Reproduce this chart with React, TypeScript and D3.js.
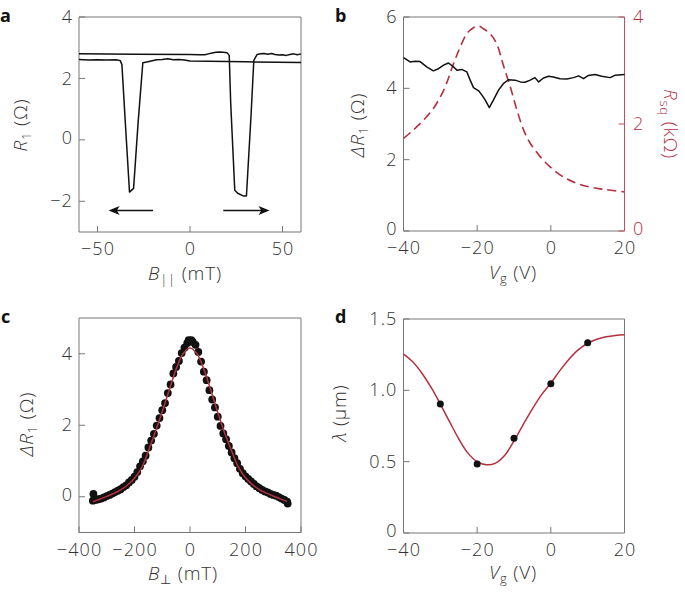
import React from "react";
import * as d3 from "d3";

const RED = "#b3303f";
const RED_SPINE = "#c4505c";
const GRAY = "#777";
const TXT = "#333";
const FONT = "'Open Sans', 'Liberation Sans', 'DejaVu Sans', sans-serif";
const TICK_FS = 18;
const TICK_LS = 1.1;
const LBL_FS = 19;
const LBL_LS = 0.8;

// ---------- Panel a ----------
const aFwdB = [-60, -30, 0, 5, 8, 10, 12, 14, 16, 18, 20, 21.2, 22, 24.2, 25.8, 29, 30.5, 33, 34.5, 36.3, 38, 40, 42, 44, 46, 48, 50, 52, 54, 56, 58, 60];
const aFwdR = [2.80, 2.79, 2.78, 2.77, 2.77, 2.80, 2.83, 2.85, 2.86, 2.85, 2.84, 2.75, 1.2, -1.64, -1.74, -1.83, -1.83, 0.8, 2.59, 2.78, 2.80, 2.81, 2.79, 2.81, 2.78, 2.76, 2.77, 2.75, 2.78, 2.80, 2.77, 2.80];
const aBwdB = [60, 30, 0, -3, -6, -9, -12, -15, -18, -21, -24, -25.5, -28, -30.5, -32.7, -35, -36.8, -37.7, -40, -45, -50, -55, -60];
const aBwdR = [2.52, 2.54, 2.57, 2.60, 2.62, 2.61, 2.64, 2.62, 2.61, 2.57, 2.53, 2.51, 0.6, -1.58, -1.70, 0.6, 2.45, 2.58, 2.61, 2.60, 2.61, 2.60, 2.62];
const aArrowFrom = [-20, 18];
const aArrowTo = [-44, 43];
const aArrowLevel = -2.3;
const aXTicks = [-50, 0, 50];
const aYTicks = [-2, 0, 2, 4];

// ---------- Panel b ----------
const bVg = [-40, -38.2, -36.8, -35.5, -33.7, -31.9, -30.5, -29.1, -27.8, -26.4, -25.5, -24.2, -22.8, -21.9, -21.0, -19.6, -18.7, -17.8, -16.7, -15.6, -14.2, -12.9, -11.5, -9.7, -8.3, -7.0, -5.6, -4.3, -3.3, -2.0, -0.6, 0.7, 2.5, 4.3, 6.2, 7.5, 8.9, 10.2, 12.0, 13.8, 16.1, 17.5, 20];
const bDR = [4.86, 4.74, 4.76, 4.75, 4.60, 4.49, 4.55, 4.65, 4.71, 4.60, 4.51, 4.53, 4.46, 4.23, 4.02, 3.93, 3.81, 3.67, 3.46, 3.67, 3.95, 4.13, 4.24, 4.23, 4.18, 4.17, 4.23, 4.30, 4.18, 4.29, 4.34, 4.32, 4.27, 4.26, 4.30, 4.35, 4.27, 4.36, 4.39, 4.34, 4.30, 4.37, 4.39];
const bVgR = [-40, -37.3, -34.6, -31.9, -29.1, -26.4, -24.6, -22.8, -21.0, -19.6, -18.3, -16.5, -14.7, -12.9, -11.0, -9.2, -7.4, -5.6, -2.9, -0.2, 3.4, 7.1, 10.7, 14.3, 20];
const bRsq = [1.73, 1.89, 2.07, 2.29, 2.63, 3.13, 3.44, 3.69, 3.80, 3.83, 3.78, 3.69, 3.50, 3.10, 2.69, 2.26, 1.89, 1.64, 1.39, 1.20, 1.01, 0.89, 0.82, 0.78, 0.73];
const bXTicks = [-40, -20, 0, 20];
const bYTicks = [0, 2, 4, 6];
const bY2Ticks = [0, 2, 4];

// ---------- Panel c ----------
const cB = [-350, -340, -330, -320, -310, -300, -290, -280, -270, -260, -250, -240, -230, -220, -210, -200, -190, -180, -170, -160, -150, -140, -130, -120, -110, -100, -90, -80, -70, -60, -50, -40, -30, -20, -10, 0, 10, 20, 30, 40, 50, 60, 70, 80, 90, 100, 110, 120, 130, 140, 150, 160, 170, 180, 190, 200, 210, 220, 230, 240, 250, 260, 270, 280, 290, 300, 310, 320, 330, 340, 350, -348, 352, -5, 5];
const cR = [-0.11, -0.09, -0.07, -0.05, -0.02, 0.02, 0.05, 0.09, 0.13, 0.17, 0.21, 0.27, 0.32, 0.40, 0.47, 0.56, 0.69, 0.85, 0.99, 1.15, 1.38, 1.57, 1.76, 1.99, 2.20, 2.42, 2.62, 2.90, 3.14, 3.45, 3.63, 3.80, 4.02, 4.17, 4.30, 4.35, 4.33, 4.25, 4.05, 3.78, 3.50, 3.26, 2.98, 2.72, 2.50, 2.24, 1.98, 1.77, 1.61, 1.42, 1.24, 1.08, 0.94, 0.78, 0.66, 0.57, 0.50, 0.43, 0.36, 0.29, 0.24, 0.19, 0.15, 0.12, 0.08, 0.05, 0.03, -0.01, -0.05, -0.09, -0.14, 0.08, -0.19, 4.38, 4.38];
const cFitB = [-350, -325, -300, -275, -250, -225, -200, -175, -150, -125, -100, -75, -50, -25, 0, 25, 50, 75, 100, 125, 150, 175, 200, 225, 250, 275, 300, 325, 350];
const cFitR = [-0.14, -0.07, 0.01, 0.09, 0.19, 0.33, 0.52, 0.80, 1.28, 1.82, 2.38, 2.98, 3.57, 4.00, 4.16, 4.00, 3.57, 2.98, 2.36, 1.78, 1.28, 0.82, 0.53, 0.34, 0.20, 0.10, 0.02, -0.06, -0.13];
const cXTicks = [-400, -200, 0, 200, 400];
const cYTicks = [0, 2, 4];

// ---------- Panel d ----------
const dVg = [-30, -20, -10, 0, 10];
const dLambda = [0.904, 0.484, 0.664, 1.046, 1.334];
const dFitVg = [-40, -37.5, -35, -32.5, -30, -27.5, -25, -22.5, -20, -17.5, -15, -12.5, -10, -7.5, -5, -2.5, 0, 2.5, 5, 7.5, 10, 12.5, 15, 17.5, 20];
const dFitL = [1.254, 1.20, 1.12, 1.02, 0.904, 0.78, 0.66, 0.56, 0.50, 0.478, 0.49, 0.545, 0.645, 0.76, 0.87, 0.97, 1.05, 1.14, 1.22, 1.285, 1.33, 1.358, 1.375, 1.385, 1.39];
const dXTicks = [-40, -20, 0, 20];
const dYTicks = [0, 0.5, 1.0, 1.5];
const dYLabels = ["0", "0.5", "1.0", "1.5"];

const fmt = (v: number) => (v < 0 ? "\u2212" + Math.abs(v) : String(v));

type Sc = d3.ScaleLinear<number, number>;

function Frame(props: {
  x: Sc; y: Sc; xTicks: number[]; yTicks: number[]; yLabels?: string[]; rightColor?: string;
}) {
  const { x, y, xTicks, yTicks, yLabels, rightColor } = props;
  const [x0, x1] = x.range();
  const [y0, y1] = y.range();
  return (
    <g fontFamily={FONT} fontSize={TICK_FS} fill={TXT} fontWeight={300} letterSpacing={TICK_LS}>
      {xTicks.map((t) => (
        <g key={"x" + t}>
          <line x1={x(t)} x2={x(t)} y1={y0} y2={y0 - 6} stroke={GRAY} strokeWidth={1} />
          <text x={x(t) + TICK_LS / 2} y={y0 + 23} textAnchor="middle">{fmt(t)}</text>
        </g>
      ))}
      {yTicks.map((t, i) => (
        <g key={"y" + t}>
          <line x1={x0} x2={x0 + 6} y1={y(t)} y2={y(t)} stroke={GRAY} strokeWidth={1} />
          <text x={x0 - 6} y={y(t) - (t === 0 ? 2 : 0)} dy="0.34em" textAnchor="end">{yLabels ? yLabels[i] : fmt(t)}</text>
        </g>
      ))}
      <line x1={x0} x2={x1} y1={y1} y2={y1} stroke={GRAY} strokeWidth={1} />
      <line x1={x0} x2={x1} y1={y0} y2={y0} stroke={GRAY} strokeWidth={1} />
      <line x1={x0} x2={x0} y1={y0} y2={y1} stroke={GRAY} strokeWidth={1} />
      <line x1={x1} x2={x1} y1={y0} y2={y1} stroke={rightColor || GRAY} strokeWidth={1} />
    </g>
  );
}

function PanelLetter({ x, y, t }: { x: number; y: number; t: string }) {
  return (
    <text x={x} y={y} fontFamily={FONT} fontSize={18} fontWeight={700} fill="#111">{t}</text>
  );
}

export default function App() {
  const axA = d3.scaleLinear().domain([-60, 60]).range([79, 301]);
  const ayA = d3.scaleLinear().domain([-3, 4]).range([232, 17]);
  const axB = d3.scaleLinear().domain([-40, 20]).range([403.5, 624.5]);
  const ayB = d3.scaleLinear().domain([0, 6]).range([231, 17]);
  const ay2B = d3.scaleLinear().domain([0, 4]).range([231, 17]);
  const axC = d3.scaleLinear().domain([-400, 400]).range([79, 301]);
  const ayC = d3.scaleLinear().domain([-1, 5]).range([532.5, 318]);
  const axD = d3.scaleLinear().domain([-40, 20]).range([403.5, 624.5]);
  const ayD = d3.scaleLinear().domain([0, 1.5]).range([533, 319]);

  const mk = (xs: number[], ys: number[], sx: Sc, sy: Sc, curve?: d3.CurveFactory) => {
    const l = d3.line<number>().x((v) => sx(v)).y((_, i) => sy(ys[i]));
    if (curve) l.curve(curve);
    return l(xs) || "";
  };

  const arrowHead = (tipX: number, tipY: number, dir: number) => {
    const L = 11, W = 4.5;
    return `M${tipX},${tipY}L${tipX - dir * L},${tipY - W}L${tipX - dir * L * 0.75},${tipY}L${tipX - dir * L},${tipY + W}Z`;
  };

  const lbl = { fontFamily: FONT, fontSize: LBL_FS, fill: TXT, fontWeight: 300, letterSpacing: LBL_LS } as const;
  const SUB = 13;

  return (
    <svg width={685} height={594} style={{ position: "absolute", left: 0, top: 0, background: "#fff" }}>
      <rect x={0} y={0} width={685} height={594} fill="#fff" />

      {/* Panel a */}
      <PanelLetter x={0} y={22} t="a" />
      <Frame x={axA} y={ayA} xTicks={aXTicks} yTicks={aYTicks} />
      <path d={mk(aFwdB, aFwdR, axA, ayA)} fill="none" stroke="#111" strokeWidth={1.5} strokeLinejoin="round" />
      <path d={mk(aBwdB, aBwdR, axA, ayA)} fill="none" stroke="#111" strokeWidth={1.5} strokeLinejoin="round" />
      {aArrowFrom.map((f, i) => {
        const to = aArrowTo[i];
        const dir = to > f ? 1 : -1;
        const yy = ayA(aArrowLevel);
        return (
          <g key={"arr" + i}>
            <line x1={axA(f)} x2={axA(to) - dir * 6} y1={yy} y2={yy} stroke="#111" strokeWidth={1.5} />
            <path d={arrowHead(axA(to), yy, dir)} fill="#111" />
          </g>
        );
      })}
      <text {...lbl} transform="translate(27,125) rotate(-90)" textAnchor="middle">
        <tspan fontStyle="italic">R</tspan><tspan fontSize={SUB} dy={4}>1</tspan><tspan dy={-4}> (Ω)</tspan>
      </text>
      <text {...lbl} x={185} y={280} textAnchor="middle">
        <tspan fontStyle="italic">B</tspan><tspan fontSize={SUB} dy={4}>||</tspan><tspan dy={-4}> (mT)</tspan>
      </text>

      {/* Panel b */}
      <PanelLetter x={335} y={22} t="b" />
      <Frame x={axB} y={ayB} xTicks={bXTicks} yTicks={bYTicks} rightColor={RED_SPINE} />
      {bY2Ticks.map((t) => (
        <g key={"r" + t}>
          <line x1={624.5} x2={618.5} y1={ay2B(t)} y2={ay2B(t)} stroke={RED_SPINE} strokeWidth={1} />
          <text x={633} y={ay2B(t) - (t === 0 ? 2 : 0)} dy="0.34em" fontFamily={FONT} fontSize={TICK_FS} letterSpacing={TICK_LS} fontWeight={300} fill={RED}>{t}</text>
        </g>
      ))}
      <path d={mk(bVgR, bRsq, axB, ay2B, d3.curveCatmullRom)} fill="none" stroke={RED} strokeWidth={1.6} strokeDasharray="9,5" />
      <path d={mk(bVg, bDR, axB, ayB)} fill="none" stroke="#111" strokeWidth={1.5} strokeLinejoin="round" />
      <text {...lbl} transform="translate(364,125) rotate(-90)" textAnchor="middle">
        <tspan fontStyle="italic">ΔR</tspan><tspan fontSize={SUB} dy={4}>1</tspan><tspan dy={-4}> (Ω)</tspan>
      </text>
      <text {...lbl} fill={RED} transform="translate(664,124) rotate(90)" textAnchor="middle">
        <tspan fontStyle="italic">R</tspan><tspan fontSize={SUB} dy={4}>sq</tspan><tspan dy={-4}> (kΩ)</tspan>
      </text>
      <text {...lbl} x={513} y={279} textAnchor="middle">
        <tspan fontStyle="italic">V</tspan><tspan fontSize={SUB} dy={4}>g</tspan><tspan dy={-4}> (V)</tspan>
      </text>

      {/* Panel c */}
      <PanelLetter x={1} y={323} t="c" />
      <Frame x={axC} y={ayC} xTicks={cXTicks} yTicks={cYTicks} />
      {cB.map((b, i) => (
        <circle key={"c" + i} cx={axC(b)} cy={ayC(cR[i])} r={3.9} fill="#111" />
      ))}
      <path d={mk(cFitB, cFitR, axC, ayC, d3.curveCatmullRom)} fill="none" stroke={RED} strokeWidth={1.5} />
      <text {...lbl} transform="translate(33,424) rotate(-90)" textAnchor="middle">
        <tspan fontStyle="italic">ΔR</tspan><tspan fontSize={SUB} dy={4}>1</tspan><tspan dy={-4}> (Ω)</tspan>
      </text>
      <text {...lbl} x={183} y={580} textAnchor="middle">
        <tspan fontStyle="italic">B</tspan><tspan fontSize={SUB} dy={4}>⊥</tspan><tspan dy={-4}> (mT)</tspan>
      </text>

      {/* Panel d */}
      <PanelLetter x={335} y={323} t="d" />
      <Frame x={axD} y={ayD} xTicks={dXTicks} yTicks={dYTicks} yLabels={dYLabels} />
      <path d={mk(dFitVg, dFitL, axD, ayD, d3.curveCatmullRom)} fill="none" stroke={RED} strokeWidth={1.5} />
      {dVg.map((v, i) => (
        <circle key={"d" + i} cx={axD(v)} cy={ayD(dLambda[i])} r={3.5} fill="#111" />
      ))}
      <text {...lbl} transform="translate(346,413) rotate(-90)" textAnchor="middle">
        <tspan fontStyle="italic">λ</tspan><tspan> (μm)</tspan>
      </text>
      <text {...lbl} x={513} y={579} textAnchor="middle">
        <tspan fontStyle="italic">V</tspan><tspan fontSize={SUB} dy={4}>g</tspan><tspan dy={-4}> (V)</tspan>
      </text>
    </svg>
  );
}
